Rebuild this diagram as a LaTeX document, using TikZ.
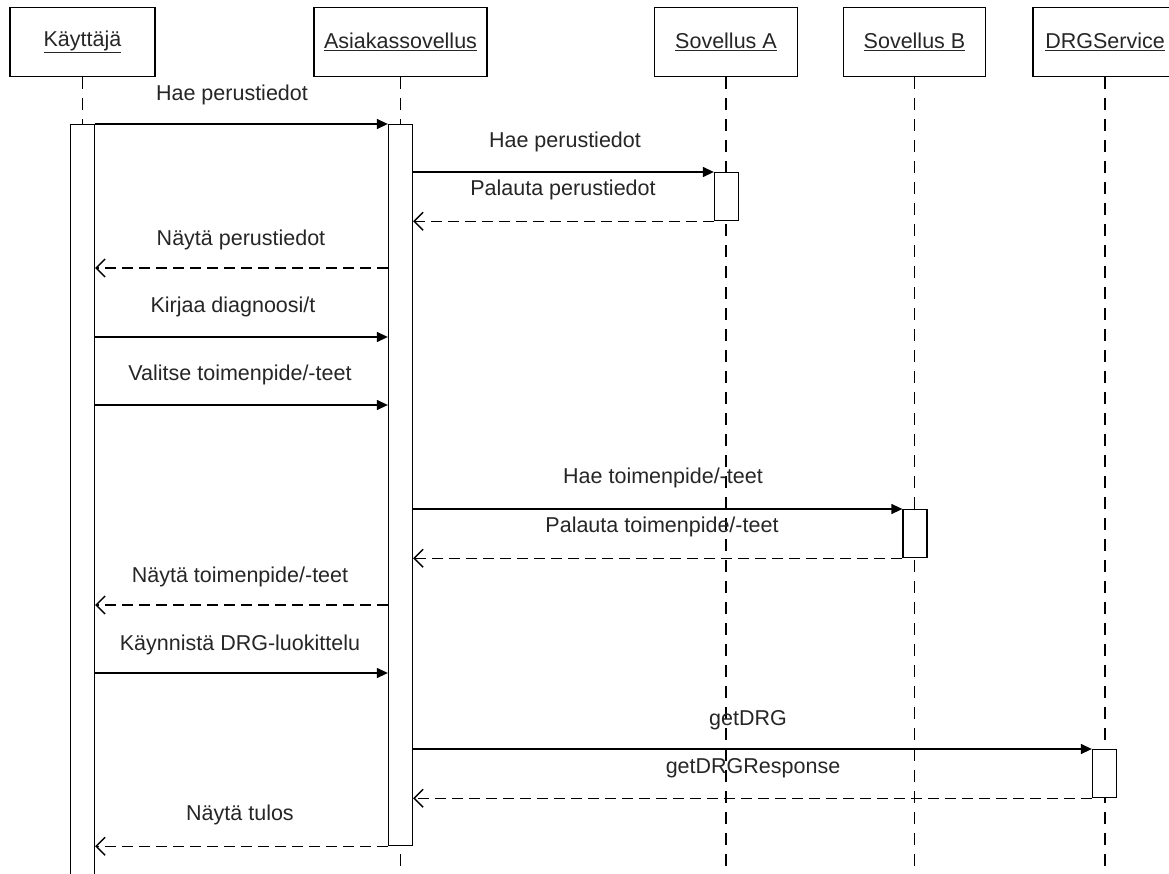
\documentclass[tikz,border=0pt]{standalone}
\usepackage{fontspec}
\setmainfont{Liberation Sans}
\usetikzlibrary{arrows.meta,calc}
\begin{document}
\begin{tikzpicture}[x=1pt,y=-1pt,
  head/.style={draw, line width=1.3pt, fill=white, minimum height=69pt, inner sep=0pt, font=\fontsize{21.5}{26}\selectfont, text=black!85},
  life/.style={line width=1.3pt, dash pattern=on 12pt off 9pt},
  act/.style={draw, line width=1.3pt, fill=white, inner sep=0pt, minimum width=24pt, anchor=north},
  call/.style={line width=1.3pt, -{Triangle[length=11pt,width=10pt]}},
  ret/.style={line width=1.4pt, dash pattern=on 11pt off 6pt, -{Straight Barb[length=9pt,width=18pt]}},
  lbl/.style={font=\fontsize{21.5}{26}\selectfont, text=black!85, inner sep=0pt},
]
\useasboundingbox (0,0) rectangle (1169,874);
\fill[white] (0,0) rectangle (1169,874);

% heads
\node[head, minimum width=145pt] (hK) at (82.5,42) {\underline{Käyttäjä}};
\node[head, minimum width=173pt] (hC) at (400.5,42) {\underline{Asiakassovellus}};
\node[head, minimum width=143pt] (hA) at (726,42) {\underline{Sovellus A}};
\node[head, minimum width=142pt] (hB) at (914.5,42) {\underline{Sovellus B}};
\node[head, minimum width=144pt] (hD) at (1105,42) {\underline{DRGService}};

% lifelines
\foreach \h in {hK,hC,hA,hB,hD}
  \draw[life] (\h.south) -- (\h.south |- 0,874);

% activations
\node[act, minimum height=760pt] (aK) at (82.5,124) {};
\node[act, minimum height=721pt] (aC) at (400.5,124) {};
\node[act, minimum height=48pt] (aA) at (726.5,172) {};
\node[act, minimum height=48pt] (aB) at (915,509) {};
\node[act, minimum height=48pt] (aD) at (1104.5,749) {};

% messages
\draw[call] (aK.north east) -- (aC.north west);
\node[lbl] (l1) at (232,95) {Hae perustiedot};

\draw[call] (aC.east |- aA.north) -- (aA.north west);
\node[lbl] (l2) at (565,142) {Hae perustiedot};

\draw[ret] (aA.south west) -- (aC.east |- aA.south);
\node[lbl] (l3) at (563,190) {Palauta perustiedot};

\draw[ret] (aC.west |- 0,268) -- (aK.east |- 0,268);
\node[lbl] (l4) at (241,240) {Näytä perustiedot};

\draw[call] (aK.east |- 0,337) -- (aC.west |- 0,337);
\node[lbl] (l5) at (233,307) {Kirjaa diagnoosi/t};

\draw[call] (aK.east |- 0,405) -- (aC.west |- 0,405);
\node[lbl] (l6) at (240,375) {Valitse toimenpide/-teet};

\draw[call] (aC.east |- aB.north) -- (aB.north west);
\node[lbl] (l7) at (663,478) {Hae toimenpide/-teet};

\draw[ret] (aB.south west) -- (aC.east |- aB.south);
\node[lbl] (l8) at (662,527) {Palauta toimenpide/-teet};

\draw[ret] (aC.west |- 0,605) -- (aK.east |- 0,605);
\node[lbl] (l9) at (240,577) {Näytä toimenpide/-teet};

\draw[call] (aK.east |- 0,673) -- (aC.west |- 0,673);
\node[lbl] (l10) at (240,645) {Käynnistä DRG-luokittelu};

\draw[call] (aC.east |- aD.north) -- (aD.north west);
\node[lbl] (l11) at (748,720) {getDRG};

\draw[ret] (aD.south west) -- (aC.east |- aD.south);
\node[lbl] (l12) at (753,768) {getDRGResponse};

\draw[ret] (aC.south west) -- (aK.east |- aC.south);
\node[lbl] (l13) at (240,815) {Näytä tulos};
\end{tikzpicture}
\end{document}
